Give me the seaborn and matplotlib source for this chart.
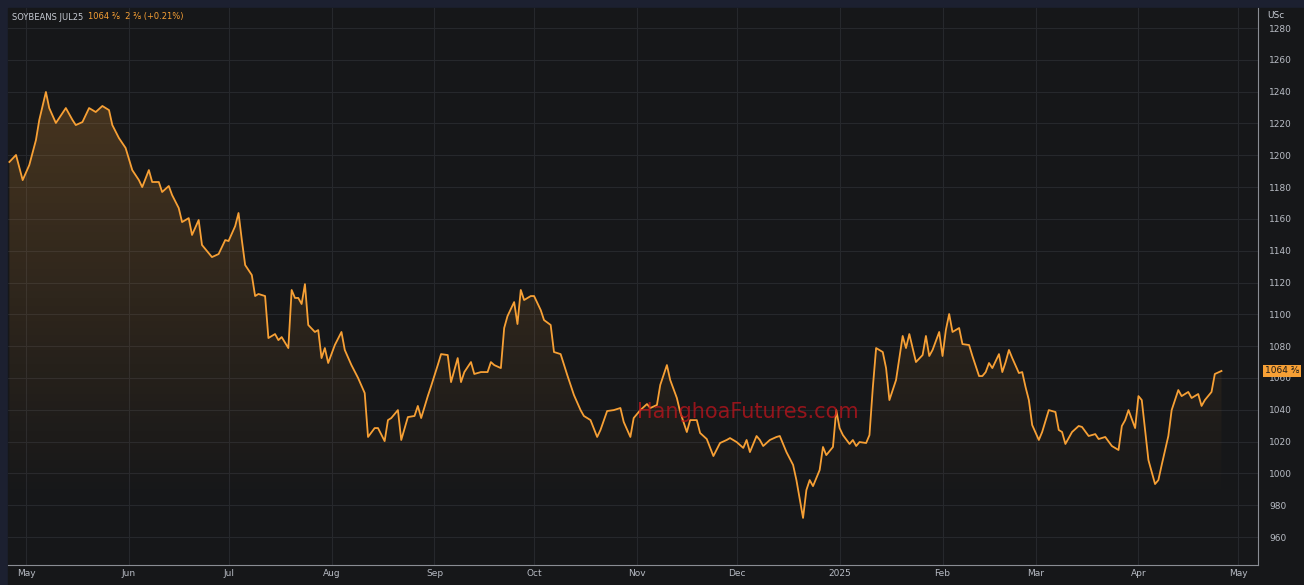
import numpy as np
import pandas as pd
import matplotlib
matplotlib.use("Agg")
import matplotlib.pyplot as plt
import matplotlib.dates as mdates
from matplotlib.colors import LinearSegmentedColormap
import seaborn as sns

values = [1195.8,1200.2,1184.4,1193.9,1209.6,1222.2,1239.8,1229.7,1220.3,1223.4,1229.7,1222.2,1219,1220.9,1229.7,1227.2,1231,1228.4,1219,1210.8,
1204.6,1190.7,1184.4,1180,1190.7,1183.2,1183.2,1176.9,1180.7,1175,1166.8,1158,1160.5,1149.9,1159.3,1143.6,1138.5,1136,1137.9,1146.7,
1146.1,1155.5,1163.7,1146.7,1131,1124.7,1111.5,1112.8,1111.5,1085.1,1087.6,1083.8,1085.7,1078.8,1115.3,1110.3,1110.3,1106.5,1119,1093.3,
1088.9,1090.1,1072.5,1078.8,1069.4,1080.7,1088.9,1077.6,1068.1,1060,1050.5,1022.9,1028.5,1028.5,1020.3,1033.5,1034.8,1039.8,1021,1035.4,
1036.1,1042.4,1034.8,1048.6,1054.9,1068.1,1075,1074.4,1057.4,1072.5,1057.4,1063.7,1070,1062.5,1063.7,1063.7,1070,1068.1,1066.2,1091.4,
1098.9,1107.7,1093.9,1115.3,1109,1111.5,1111.5,1102.7,1096.4,1093.3,1076.3,1075,1061.8,1049.3,1039.8,1036.1,1033.5,1022.9,1027.3,1039.2,
1039.8,1041.1,1032.3,1022.9,1034.8,1039.8,1043.6,1041.1,1043,1055.6,1068.1,1058.7,1047.4,1038.6,1026,1033.5,1033.5,1025.4,1021.6,1010.9,
1019.1,1021,1022.2,1019.7,1016,1021,1013.4,1023.5,1021,1017.2,1021,1022.9,1023.5,1013.4,1005.3,995.8,972,989.5,995.8,992,
1002.1,1016.6,1011.5,1016.6,1039.8,1028.5,1024.1,1018.5,1021,1017.2,1019.7,1019.1,1024.1,1053.7,1078.8,1076.3,1066.2,1046.1,1052.4,1058.7,
1086.4,1078.8,1087.6,1078.8,1070,1074.4,1086.4,1073.8,1077.6,1088.9,1073.8,1090.1,1100.2,1088.9,1091.4,1081.3,1080.7,1073.8,1061.2,1061.2,
1063.7,1069.4,1066.2,1075,1063.7,1070,1077.6,1072.5,1063.1,1063.7,1054.3,1046.1,1030.4,1021,1026,1039.8,1038.6,1027.3,1026,1018.5,
1026,1029.8,1029.2,1023.5,1024.7,1021.6,1022.9,1017.2,1014.7,1029.8,1033.5,1039.8,1028.5,1048.6,1046.1,1027.3,1008.4,993.3,995.8,1005.3,
1023.5,1039.8,1052.4,1048.6,1051.2,1047.4,1049.9,1042.4,1046.1,1051.2,1062.5,1064.4]
day_offsets = [0,2,4,6,8,9,11,12,14,15,17,19,20,22,24,26,28,30,31,33,35,37,39,40,42,43,45,46,48,49,51,52,54,55,57,58,60,61,63,65,
66,68,69,70,71,73,74,75,77,78,80,81,82,84,85,86,87,88,89,90,92,93,94,95,96,98,100,101,103,105,107,108,110,111,113,114,115,117,118,120,
122,123,124,126,127,129,130,132,133,135,136,137,139,140,142,144,145,146,148,149,150,152,153,154,155,157,158,160,161,163,164,166,168,170,172,173,
175,177,178,180,182,184,185,187,188,190,192,193,195,196,198,199,201,202,204,205,207,208,210,212,214,216,217,219,221,222,223,225,226,227,229,231,
232,234,236,237,239,240,241,242,244,245,246,248,249,250,251,253,254,255,256,258,259,260,261,263,264,265,266,267,269,270,271,272,273,275,276,277,
278,280,281,282,283,284,286,287,289,290,292,293,294,295,296,298,299,300,301,302,304,305,306,307,308,310,311,313,315,316,317,318,320,322,323,325,
327,328,330,332,334,335,336,337,339,340,341,342,343,345,346,347,349,350,352,353,355,356,358,359,360,362,363,365]
start_date = "2024-04-26"
month_ticks = pd.date_range("2024-05-01", "2025-05-01", freq="MS")
month_labels = ["May","Jun","Jul","Aug","Sep","Oct","Nov","Dec","2025","Feb","Mar","Apr","May"]
y_ticks = list(range(960, 1281, 20))

n = min(len(values), len(day_offsets))
dates = pd.Timestamp(start_date) + pd.to_timedelta(day_offsets[:n], unit="D")
vals = np.array(values[:n])
df = pd.DataFrame({"date": dates, "price": vals})

BG = "#161719"
ORANGE = "#f7a035"
fig = plt.figure(figsize=(13.04, 5.85), dpi=100, facecolor="#1c2030")
ax = fig.add_axes([8/1304, 20/585, 1250/1304, 557/585])
ax.set_facecolor(BG)
fig.patches.append(plt.Rectangle((0.006, 0), 0.994, 1-8/585, transform=fig.transFigure, color=BG, zorder=-1))

sns.lineplot(data=df, x="date", y="price", ax=ax, color=ORANGE, linewidth=1.3, zorder=3)
ax.set_ylim(942.4, 1292.6)
x0, x1 = mdates.date2num(pd.Timestamp("2024-04-25 14:00")), mdates.date2num(pd.Timestamp("2025-05-07"))
ax.set_xlim(x0, x1)

xn = mdates.date2num(dates)
base = 980
poly = ax.fill_between(xn, vals, base, color="none", lw=0)
grad = np.linspace(0, 1, 256).reshape(-1, 1)
cmap = LinearSegmentedColormap.from_list("g", [(0.97,0.63,0.21,0.0),(0.97,0.63,0.21,0.22)])
im = ax.imshow(grad, aspect="auto", cmap=cmap, origin="lower",
               extent=[xn[0], xn[-1], base, vals.max()], zorder=2)
im.set_clip_path(poly.get_paths()[0], transform=ax.transData)

ax.set_xticks(mdates.date2num(month_ticks))
ax.set_xticklabels(month_labels)
ax.set_yticks(y_ticks)
ax.yaxis.tick_right()
ax.tick_params(axis="y", length=0, pad=8, labelsize=6.5, labelcolor="#b8bcc4")
ax.tick_params(axis="x", length=0, pad=3, labelsize=6.5, labelcolor="#b8bcc4")
ax.grid(True, color="#26282c", linewidth=0.8)
ax.set_xlabel(""); ax.set_ylabel("")
for s in ["top", "left"]:
    ax.spines[s].set_visible(False)
ax.spines["right"].set_color("#8a8d94")
ax.spines["bottom"].set_color("#8a8d94")

fig.text(1267/1304, 1-16/585, "USc", color="#c8ccd4", fontsize=6.5, va="center")
ax.annotate("1064 ⅜", xy=(1.0, vals[-1]), xycoords=("axes fraction", "data"),
            xytext=(5, 0), textcoords="offset points", fontsize=6.5, color="#1a1a1a", va="center",
            bbox=dict(boxstyle="square,pad=0.2", fc=ORANGE, ec="none"))
fig.text(12/1304, 1-17/585, "SOYBEANS JUL25", color="#c8ccd4", fontsize=6, va="center")
fig.text(88/1304, 1-17/585, "1064 ⅜  2 ⅜ (+0.21%)", color=ORANGE, fontsize=6, va="center")
ax.text(740/1250, 1-(412-8)/557, "HanghoaFutures.com", transform=ax.transAxes, color="#c0141c",
        alpha=0.75, fontsize=15, ha="center", va="center", zorder=4)

fig.savefig("out.png", dpi=100, facecolor=fig.get_facecolor())
